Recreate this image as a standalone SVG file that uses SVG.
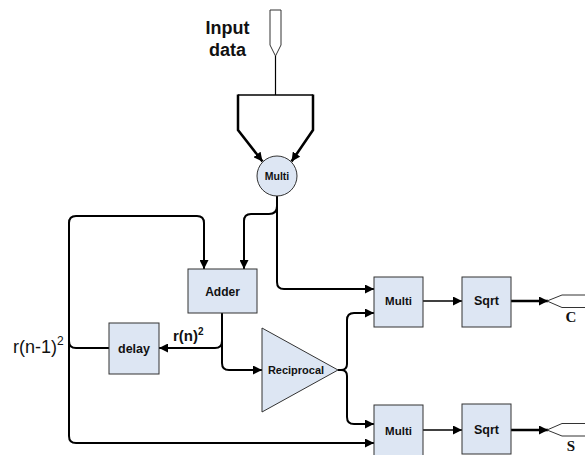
<svg xmlns="http://www.w3.org/2000/svg" width="585" height="455" viewBox="0 0 585 455">
<defs>
<style>
.box{fill:#dde6f3;stroke:#333;stroke-width:1}
.lbl{font-family:"Liberation Sans",Arial,sans-serif;font-weight:bold;fill:#111;text-anchor:middle}
.c{fill:none;stroke:#000;stroke-width:2}
.thin{fill:none;stroke:#000;stroke-width:1.2}
.port{fill:none;stroke:#333;stroke-width:1}
</style>
<marker id="ah" viewBox="0 0 10 10" refX="10" refY="5" markerWidth="9" markerHeight="9" markerUnits="userSpaceOnUse" orient="auto">
<path d="M0,0 L10,5 L0,10 Z" fill="#000"/>
</marker>
</defs>
<rect width="585" height="455" fill="#fff"/>
<g id="input-port">
<path class="port" d="M270,10 H281 V45 L275.5,56 L270,45 Z" fill="#fff"/>
<text class="lbl" x="227.5" y="34" font-size="18">Input</text>
<text class="lbl" x="227.5" y="56" font-size="18">data</text>
</g>
<g id="connectors">
<path class="thin" d="M275.5,56 V95"/>
<path fill="none" stroke="#000" stroke-width="1.5" d="M238,95 H313"/>
<path fill="none" stroke="#000" stroke-width="2.5" d="M238,94.5 V130 L262.5,161.5" marker-end="url(#ah)"/>
<path fill="none" stroke="#000" stroke-width="2.5" d="M313,94.5 V130 L291.5,161.5" marker-end="url(#ah)"/>
<path class="c" d="M277,196 V282 Q277,289 284,289 H374" marker-end="url(#ah)"/>
<path class="c" d="M277,206 Q277,214 269,214 H251 Q244,214 244,221 V269" marker-end="url(#ah)"/>
<path class="c" d="M109,348 H76 Q69,348 69,341 V223 Q69,216 76,216 H197 Q204,216 204,223 V269" marker-end="url(#ah)"/>
<path class="c" d="M69,341 V436 Q69,443 76,443 H374" marker-end="url(#ah)"/>
<path class="c" d="M222,313 V341 Q222,348 215,348 H159" marker-end="url(#ah)"/>
<path class="c" d="M222,341 V363 Q222,370 229,370 H262" marker-end="url(#ah)"/>
<path class="c" d="M338,370 H341 Q347,370 347,364 V320 Q347,313 354,313 H374" marker-end="url(#ah)"/>
<path class="c" d="M341,370 Q347,370 347,376 V417 Q347,424 354,424 H374" marker-end="url(#ah)"/>
<path fill="none" stroke="#000" stroke-width="1.5" d="M423,301 H462" marker-end="url(#ah)"/>
<path fill="none" stroke="#000" stroke-width="1.5" d="M423,430 H462" marker-end="url(#ah)"/>
<path fill="none" stroke="#000" stroke-width="2.5" d="M511,301 H548" marker-end="url(#ah)"/>
<path fill="none" stroke="#000" stroke-width="2.5" d="M511,430 H548" marker-end="url(#ah)"/>
</g>
<g id="multi-circle">
<circle class="box" cx="277" cy="176" r="20"/>
<text class="lbl" x="277" y="180" font-size="10.5">Multi</text>
</g>
<g id="adder">
<rect class="box" x="188" y="269" width="69" height="44"/>
<text class="lbl" x="222.5" y="295.5" font-size="12">Adder</text>
</g>
<g id="delay">
<rect class="box" x="109" y="323" width="50" height="51"/>
<text class="lbl" x="134" y="352.5" font-size="12.5">delay</text>
</g>
<g id="reciprocal">
<polygon class="box" points="262,328 262,412 338,370"/>
<text class="lbl" x="296" y="374" font-size="11">Reciprocal</text>
</g>
<g id="multi1">
<rect class="box" x="374" y="277" width="49" height="50"/>
<text class="lbl" x="398.5" y="305" font-size="11.5">Multi</text>
</g>
<g id="sqrt1">
<rect class="box" x="462" y="277" width="49" height="50"/>
<text class="lbl" x="486.5" y="305" font-size="12.5">Sqrt</text>
</g>
<g id="multi2">
<rect class="box" x="374" y="405" width="49" height="52"/>
<text class="lbl" x="398.5" y="434.5" font-size="11.5">Multi</text>
</g>
<g id="sqrt2">
<rect class="box" x="462" y="404" width="49" height="50"/>
<text class="lbl" x="486.5" y="434" font-size="12.5">Sqrt</text>
</g>
<g id="port-c">
<path class="port" d="M586,295 H562 L547,301 L562,307.5 H586"/>
<text x="571" y="322" font-family="'Liberation Serif','Times New Roman',serif" font-weight="bold" font-size="15" text-anchor="middle" fill="#111">C</text>
</g>
<g id="port-s">
<path class="port" d="M586,423.5 H562 L547,430 L562,436 H586"/>
<text x="571" y="451" font-family="'Liberation Serif','Times New Roman',serif" font-weight="bold" font-size="15" text-anchor="middle" fill="#111">S</text>
</g>
<g id="labels">
<text x="13" y="353" font-family="'Liberation Sans',Arial,sans-serif" font-size="18" fill="#111">r(n-1)<tspan font-size="12" dy="-8">2</tspan></text>
<text x="173" y="341" font-family="'Liberation Sans',Arial,sans-serif" font-weight="bold" font-size="15" fill="#111">r(n)<tspan font-size="10" dy="-6">2</tspan></text>
</g>
</svg>
